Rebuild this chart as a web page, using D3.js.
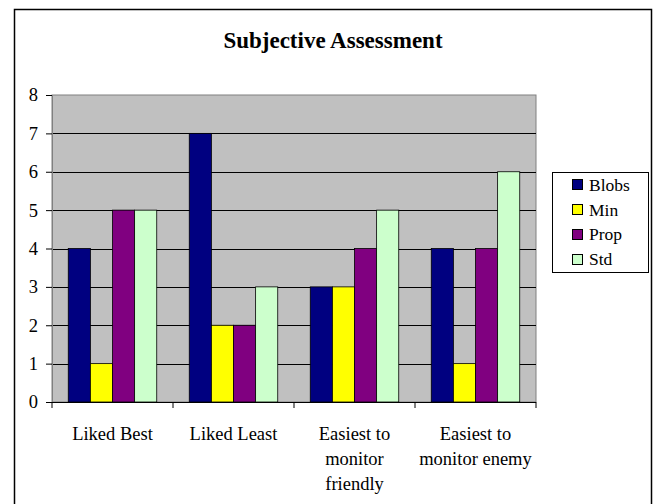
<!DOCTYPE html>
<html><head><meta charset="utf-8">
<script src="https://cdn.jsdelivr.net/npm/d3@7"></script>
</head><body style="margin:0;background:#fff"><svg id="c" width="655" height="504" style="display:block"></svg>
<script>
const categories = [["Liked Best"],["Liked Least"],["Easiest to","monitor","friendly"],["Easiest to","monitor enemy"]];
const seriesNames = ["Blobs","Min","Prop","Std"];
const seriesColors = ["#000080","#FFFF00","#800080","#CCFFCC"];
const blobs = [4,7,3,4];
const minV = [1,2,3,1];
const prop = [5,2,4,4];
const std = [5,3,5,6];
const yTicks = [0,1,2,3,4,5,6,7,8];
const title = "Subjective Assessment";

const FONT = '"Liberation Serif", "Times New Roman", Times, serif';
const seriesValues = [blobs, minV, prop, std];
const svg = d3.select("#c");
const L=52, R=536, T=95, B=402;

svg.append("rect").attr("x",14.5).attr("y",9.5).attr("width",637).attr("height",510)
  .attr("fill","none").attr("stroke","#000").attr("stroke-width",1.5);

svg.append("text").attr("x",333).attr("y",48).attr("text-anchor","middle")
  .style("font-family",FONT).style("font-size","23px").style("font-weight","bold").text(title);

const y = d3.scaleLinear().domain([0,8]).range([B,T]);
const x0 = d3.scaleBand().domain(d3.range(categories.length)).range([L,R]).paddingInner(0).paddingOuter(0);
const x1 = d3.scaleBand().domain(d3.range(seriesNames.length)).range([0,x0.bandwidth()]).paddingOuter(0.735).paddingInner(0);

svg.append("rect").attr("x",L).attr("y",T).attr("width",R-L).attr("height",B-T)
  .attr("fill","#C0C0C0").attr("stroke","#808080").attr("stroke-width",1);

svg.append("g").selectAll("line").data(yTicks.filter(d=>d>0&&d<8)).join("line")
  .attr("x1",L).attr("x2",R).attr("y1",d=>Math.round(y(d))+0.5).attr("y2",d=>Math.round(y(d))+0.5)
  .attr("stroke","#000").attr("stroke-width",1);

const g = svg.append("g");
categories.forEach((c,i)=>{
  seriesValues.forEach((vals,s)=>{
    const v = vals[i];
    g.append("rect").attr("x",x0(i)+x1(s)).attr("width",x1.bandwidth())
      .attr("y",y(v)).attr("height",y(0)-y(v))
      .attr("fill",seriesColors[s]).attr("stroke","#000").attr("stroke-width",0.8);
  });
});

// y axis (ticks + labels through d3 axis)
const ya = svg.append("g").attr("transform",`translate(${L},0)`).call(d3.axisLeft(y).tickValues(yTicks).tickSize(6).tickPadding(8).tickFormat(d3.format("d")));
ya.select(".domain").attr("stroke","#808080");
ya.selectAll("line").attr("stroke","#000");
ya.selectAll("text").style("font-size","18.5px").style("font-family",FONT).style("fill","#000");

// x axis
const xa = svg.append("g").attr("transform",`translate(0,${B})`);
xa.append("line").attr("x1",L).attr("x2",R).attr("y1",0.5).attr("y2",0.5).attr("stroke","#000");
xa.selectAll("line.t").data(d3.range(categories.length+1)).join("line").attr("class","t")
  .attr("x1",d=>L+d*x0.bandwidth()).attr("x2",d=>L+d*x0.bandwidth()).attr("y1",0).attr("y2",6).attr("stroke","#000");
categories.forEach((lines,i)=>{
  const t = xa.append("text").attr("text-anchor","middle").style("font-family",FONT).style("font-size","18.5px");
  lines.forEach((ln,k)=>t.append("tspan").attr("x",x0(i)+x0.bandwidth()/2).attr("y",38+k*25).text(ln));
});

// legend
const lg = svg.append("g");
lg.append("rect").attr("x",552.5).attr("y",172.5).attr("width",96).attr("height",100).attr("fill","#fff").attr("stroke","#000").attr("stroke-width",1);
seriesNames.forEach((n,s)=>{
  lg.append("rect").attr("x",572.5).attr("y",179.5+s*25).attr("width",10).attr("height",10)
    .attr("fill",seriesColors[s]).attr("stroke","#000").attr("stroke-width",1);
  lg.append("text").attr("x",589).attr("y",191+s*24.6).style("font-family",FONT).style("font-size","17.5px").text(n);
});
</script></body></html>
